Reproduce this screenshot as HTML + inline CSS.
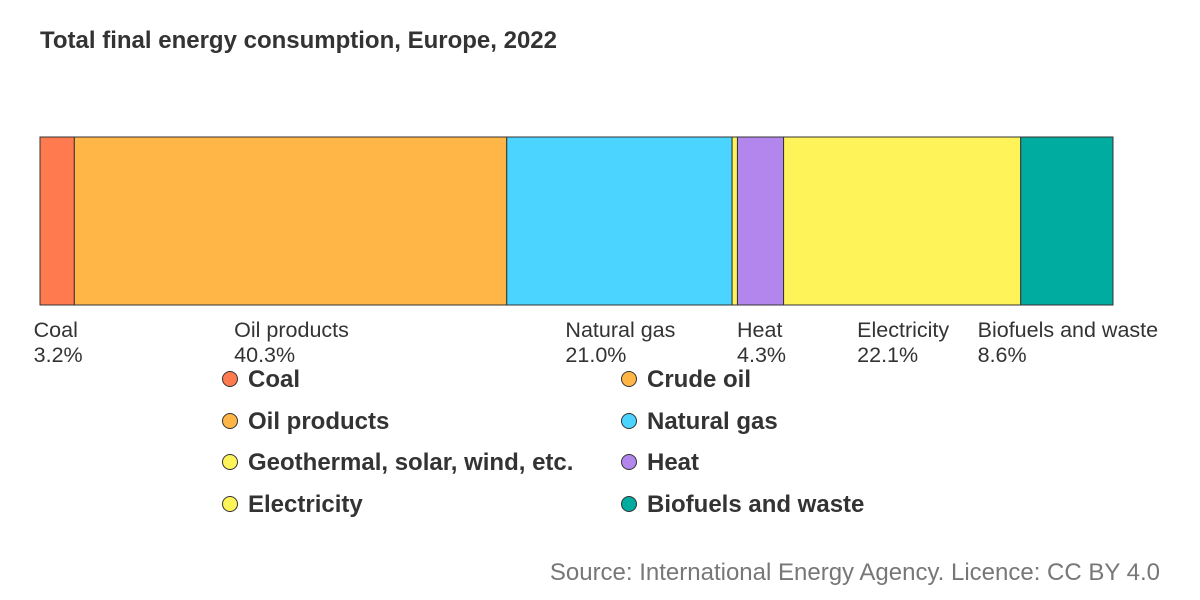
<!DOCTYPE html>
<html><head><meta charset="utf-8"><style>
body{margin:0;width:1200px;height:600px;background:#fff;font-family:"Liberation Sans",Arial,sans-serif;position:relative;overflow:hidden}
.title{position:absolute;left:40px;top:27px;font-size:24px;font-weight:bold;color:#333}
.lbl{position:absolute;top:318px;font-size:21.5px;color:#333;line-height:25px;transform:translateX(-50%);white-space:nowrap}
.leg{position:absolute;font-size:24px;font-weight:bold;color:#333;white-space:nowrap}
.leg span{display:inline-block;width:14px;height:14px;border-radius:50%;border:1px solid #333;margin-right:10px;vertical-align:0px}
.src{position:absolute;right:40px;top:559px;font-size:24px;color:#777}
</style></head><body>
<div class="title">Total final energy consumption, Europe, 2022</div>
<svg id="bar" width="1200" height="600" style="position:absolute;left:0;top:0"></svg>
<div id="labels"></div>
<div id="legend"></div>
<div class="src">Source: International Energy Agency. Licence: CC BY 4.0</div>
<script>
const categories=["Coal","Crude oil","Oil products","Natural gas","Geothermal, solar, wind, etc.","Heat","Electricity","Biofuels and waste"];
const values=[3.2,0,40.3,21.0,0.5,4.3,22.1,8.6];
const colors=["#ff7b4f","#ffb646","#ffb646","#4ad4ff","#fff35a","#b386ee","#fff35a","#00aba0"];
const showLabel=[true,false,true,true,false,true,true,true];
const X0=40,X1=1113,Y0=137,H=168;
const total=values.reduce((a,b)=>a+b,0);
const sx=v=>v/total*(X1-X0);
const svg=document.getElementById('bar');
const NS="http://www.w3.org/2000/svg";
let acc=0;
const lab=document.getElementById('labels');
values.forEach((v,i)=>{
  const x=X0+sx(acc),w=sx(v);acc+=v;
  if(v<=0)return;
  const r=document.createElementNS(NS,'rect');
  r.setAttribute('x',x);r.setAttribute('y',Y0);r.setAttribute('width',w);r.setAttribute('height',H);
  r.setAttribute('fill',colors[i]);r.setAttribute('stroke','#333');r.setAttribute('stroke-width','1');
  
  
  svg.appendChild(r);
  if(showLabel[i]){
    const d=document.createElement('div');d.className='lbl';
    d.style.left=(x+w/2+1)+'px';
    d.innerHTML=categories[i]+'<br>'+v.toFixed(1)+'%';
    
    
    lab.appendChild(d);
  }
});
const leg=document.getElementById('legend');
categories.forEach((c,i)=>{
  const d=document.createElement('div');d.className='leg';
  d.style.left=(i%2?621:222)+'px';
  d.style.top=(366+Math.floor(i/2)*41.5)+'px';
  d.innerHTML='<span style="background:'+colors[i]+'"></span>'+c;
  
  
  leg.appendChild(d);
});
</script>
</body></html>
